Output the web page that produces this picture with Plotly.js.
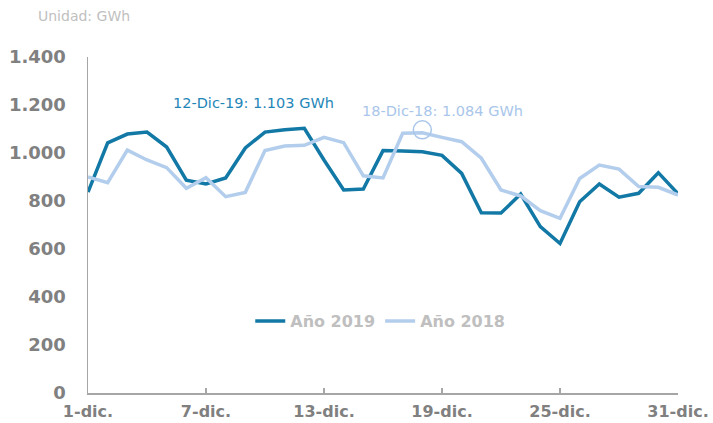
<!DOCTYPE html>
<html>
<head>
<meta charset="utf-8">
<script src="https://cdn.plot.ly/plotly-3.0.1.min.js"></script>
<style>html,body{margin:0;padding:0;background:#fff;}#chart{width:713px;height:423px;}</style>
</head>
<body>
<div id="chart"></div>
<script>
const days = [1,2,3,4,5,6,7,8,9,10,11,12,13,14,15,16,17,18,19,20,21,22,23,24,25,26,27,28,29,30,31];
const tickDays = [1,7,13,19,25,31];
const tickLabels = ["1-dic.","7-dic.","13-dic.","19-dic.","25-dic.","31-dic."];
const yTickVals = [0,200,400,600,800,1000,1200,1400];
const yTickLabels = ["0","200","400","600","800","1.000","1.200","1.400"];
const serie2019 = [837,1042,1079,1087,1025,887,871,896,1021,1087,1097,1103,971,846,850,1010,1008,1005,990,915,751,750,829,693,623,797,871,816,832,918,830];
const serie2018 = [900,876,1012,971,939,853,897,818,836,1010,1029,1032,1065,1043,905,896,1082,1084,1065,1047,978,846,821,760,728,894,950,933,860,857,825];
const name2019 = "Año 2019";
const name2018 = "Año 2018";
const note2019 = "12-Dic-19: 1.103 GWh";
const note2018 = "18-Dic-18: 1.084 GWh";

const dark = "#1278a5";
const light = "#b3cdec";
const font = "DejaVu Sans, Verdana, sans-serif";

const traces = [
  {x: days, y: serie2019, type: "scatter", mode: "lines", name: name2019,
   line: {color: dark, width: 3.5}},
  {x: days, y: serie2018, type: "scatter", mode: "lines", name: name2018,
   line: {color: light, width: 3.5}}
];

const layout = {
  width: 713, height: 423,
  margin: {l: 88, r: 35, t: 57, b: 30},
  paper_bgcolor: "#fff", plot_bgcolor: "#fff",
  font: {family: font},
  showlegend: true,
  legend: {orientation: "h", x: 0.275, xanchor: "left", y: 0.214, yanchor: "middle",
           font: {family: font, size: 16, color: "#bfbfbf", weight: "bold"},
           bgcolor: "rgba(0,0,0,0)", itemwidth: 30, tracegroupgap: 0},
  xaxis: {range: [1, 31], tickvals: tickDays, ticktext: tickLabels,
          showgrid: false, zeroline: false, showline: true, linecolor: "#a6a6a6", linewidth: 1.5,
          ticks: "inside", ticklen: 5, tickcolor: "#a6a6a6", tickwidth: 1.2,
          ticklabelstandoff: 3,
          tickfont: {family: font, size: 16, color: "#808080", weight: "bold"}},
  yaxis: {range: [0, 1400], tickvals: yTickVals, ticktext: yTickLabels,
          showgrid: false, zeroline: false, showline: true, linecolor: "#a6a6a6", linewidth: 1.5,
          ticks: "", ticklabelstandoff: 17,
          tickfont: {family: font, size: 18, color: "#808080", weight: "bold"}},
  annotations: [
    {text: "Unidad: GWh", xref: "paper", yref: "paper", x: -0.088, y: 1.122, xanchor: "left", yanchor: "middle",
     showarrow: false, font: {family: font, size: 14, color: "#bfbfbf"}},
    {text: note2019, xref: "x", yref: "y", x: 9.44, y: 1208, xanchor: "center", yanchor: "middle",
     showarrow: false, font: {family: font, size: 14.5, color: "#1f86b8"}},
    {text: note2018, xref: "x", yref: "y", x: 19.05, y: 1175, xanchor: "center", yanchor: "middle",
     showarrow: false, font: {family: font, size: 14.5, color: "#a9c6ea"}}
  ],
  shapes: [
    {type: "circle", xref: "x", yref: "y", xsizemode: "pixel", ysizemode: "pixel",
     xanchor: 18, yanchor: 1084, x0: -9, x1: 9, y0: -6, y1: 12,
     line: {color: "#a9c6ea", width: 1.5}, fillcolor: "rgba(0,0,0,0)"}
  ]
};

Plotly.newPlot("chart", traces, layout, {displayModeBar: false, staticPlot: true});
</script>
</body>
</html>
